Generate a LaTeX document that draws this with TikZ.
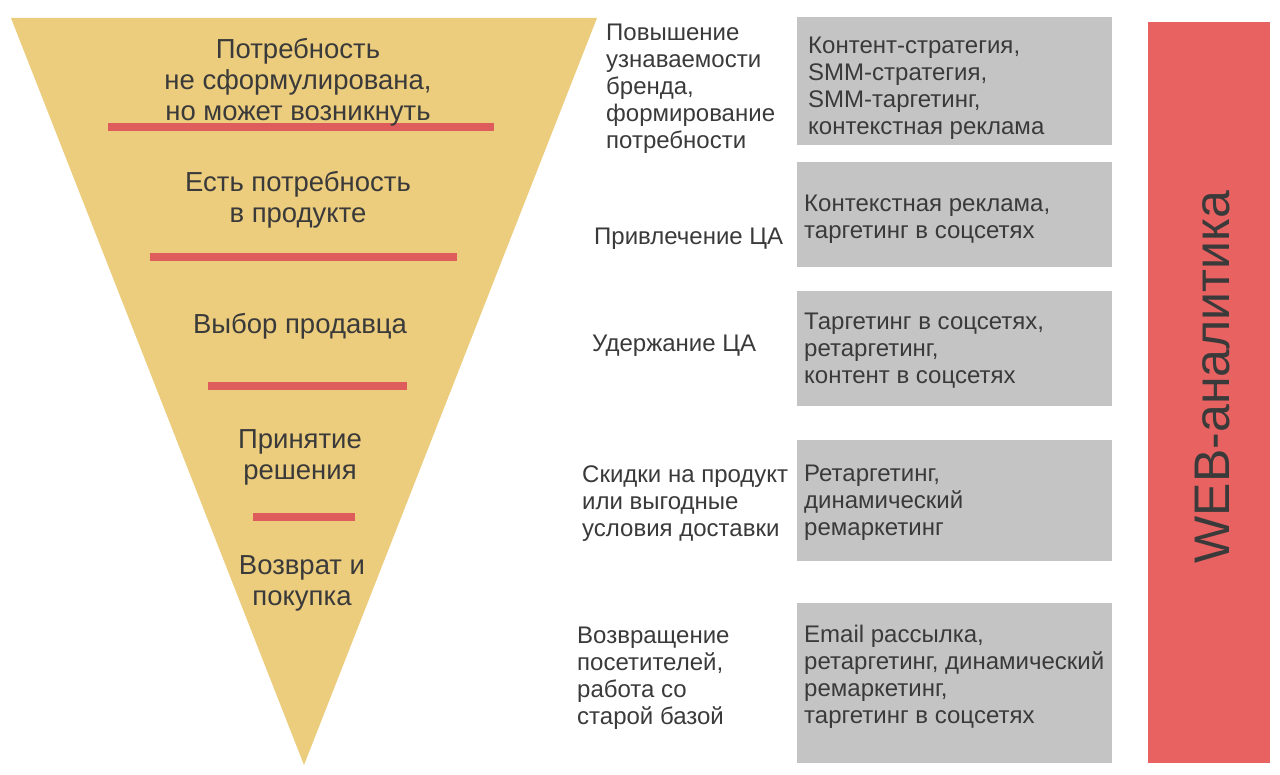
\documentclass[tikz,border=0pt]{standalone}
\usepackage{fontspec}
\setmainfont{Liberation Sans}
\definecolor{funnelyellow}{HTML}{ECCD7E}
\definecolor{cutred}{HTML}{DE5C5C}
\definecolor{boxgray}{HTML}{C4C4C4}
\definecolor{webred}{HTML}{E86262}
\definecolor{ink}{HTML}{3A3A3A}

\begin{document}
\begin{tikzpicture}[x=1pt,y=-1pt,
	stage/.style={align=center,text=ink,inner sep=0pt,font=\fontsize{27.5}{31}\selectfont},
	goal/.style={align=left,anchor=west,text=ink,inner sep=0pt,font=\fontsize{24}{27}\selectfont},
	toolbox/.style={fill=boxgray,anchor=north west,minimum width=315,inner sep=0pt,outer sep=0pt},
	tooltext/.style={align=left,anchor=west,text=ink,inner sep=0pt,font=\fontsize{24}{27}\selectfont},
	cut/.style={cutred,line width=8pt}]
	\useasboundingbox (0,0) rectangle (1280,775);
	% funnel
	\fill[funnelyellow] (11,18) -- (597,18) -- (304,765) -- cycle;
	\draw[cut] (108,127) -- (494,127);
	\draw[cut] (150,257) -- (457,257);
	\draw[cut] (208,386) -- (407,386);
	\draw[cut] (253,517) -- (355,517);
	\node[stage] (s1) at (298,82) {Потребность\\не сформулирована,\\но может возникнуть};
	\node[stage] (s2) at (298,200) {Есть потребность\\в продукте};
	\node[stage] (s3) at (300,326) {Выбор продавца};
	\node[stage] (s4) at (300,457) {Принятие\\решения};
	\node[stage] (s5) at (302,583) {Возврат и\\покупка};
	% goals
	\node[goal] (g1) at (606,89) {Повышение\\узнаваемости\\бренда,\\формирование\\потребности};
	\node[goal] (g2) at (594,239) {Привлечение ЦА};
	\node[goal] (g3) at (592,346) {Удержание ЦА};
	\node[goal] (g4) at (582,504) {Скидки на продукт\\или выгодные\\условия доставки};
	\node[goal] (g5) at (577,678) {Возвращение\\посетителей,\\работа со\\старой базой};
	% tools
	\node[toolbox,minimum height=128] (b1) at (797,17) {};
	\node[toolbox,minimum height=105] (b2) at (797,162) {};
	\node[toolbox,minimum height=115] (b3) at (797,291) {};
	\node[toolbox,minimum height=121] (b4) at (797,440) {};
	\node[toolbox,minimum height=160] (b5) at (797,603) {};
	\node[tooltext] (t1) at ([xshift=11,yshift=-7]b1.west) {Контент-стратегия,\\SMM-стратегия,\\SMM-таргетинг,\\контекстная реклама};
	\node[tooltext] (t2) at ([xshift=7,yshift=-5]b2.west) {Контекстная реклама,\\таргетинг в соцсетях};
	\node[tooltext] (t3) at ([xshift=7,yshift=-2]b3.west) {Таргетинг в соцсетях,\\ретаргетинг,\\контент в соцсетях};
	\node[tooltext] (t4) at ([xshift=7,yshift=-2]b4.west) {Ретаргетинг,\\динамический\\ремаркетинг};
	\node[tooltext] (t5) at ([xshift=7,yshift=6]b5.west) {Email рассылка,\\ретаргетинг, динамический\\ремаркетинг,\\таргетинг в соцсетях};
	% analytics bar
	\node[fill=webred,anchor=north west,minimum width=122,minimum height=741,inner sep=0pt] (bar) at (1148,22) {};
	\node[rotate=90,text=ink,inner sep=0pt,font=\fontsize{50}{50}\selectfont] (web) at (1213,377) {WEB-аналитика};
\end{tikzpicture}
\end{document}
